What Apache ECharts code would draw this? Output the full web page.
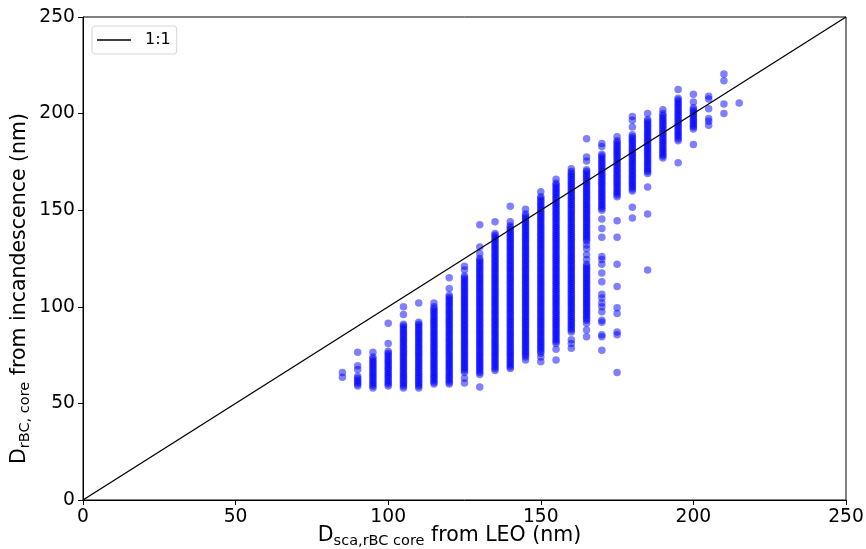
<!DOCTYPE html>
<html><head><meta charset="utf-8">
<script src="https://cdn.jsdelivr.net/npm/echarts@6/dist/echarts.min.js"></script>
<style>html,body{margin:0;padding:0;background:#fff}#c{width:866px;height:549px}</style>
</head><body><div id="c"></div>
<script>
// x positions of the size bins (nm)
const colX = [85, 90, 95, 100, 105, 110, 115, 120, 125, 130, 135, 140, 145, 150, 155, 160, 165, 170, 175, 180, 185, 190, 195, 200, 205, 210, 215];
// y values (nm) for each bin
const y85 = [63.5, 66];
const y90 = [59, 60, 61, 62, 63, 64, 67.5, 69.5, 76.5];
const y95 = [58, 59, 60, 61, 62, 63, 64, 65, 66, 67, 68, 69, 70, 71, 72, 73, 74, 76.5];
const y100 = [59, 60, 61, 62, 63, 64, 65, 66, 67, 68, 69, 70, 71, 72, 73, 74, 75, 76, 77, 81, 91.5];
const y105 = [58, 59, 60, 61, 62, 63, 64, 65, 66, 67, 68, 69, 70, 71, 72, 73, 74, 75, 76, 77, 78, 79, 80, 81, 82, 83, 84, 85, 86, 87, 88, 89, 90, 91, 96, 100];
const y110 = [58, 59, 60, 61, 62, 63, 64, 65, 66, 67, 68, 69, 70, 71, 72, 73, 74, 75, 76, 77, 78, 79, 80, 81, 82, 83, 84, 85, 86, 87, 88, 89, 90, 91, 92, 102];
const y115 = [60, 61, 62, 63, 64, 65, 66, 67, 68, 69, 70, 71, 72, 73, 74, 75, 76, 77, 78, 79, 80, 81, 82, 83, 84, 85, 86, 87, 88, 89, 90, 91, 92, 93, 94, 95, 96, 97, 98, 99, 100, 102];
const y120 = [60, 61, 62, 63, 64, 65, 66, 67, 68, 69, 70, 71, 72, 73, 74, 75, 76, 77, 78, 79, 80, 81, 82, 83, 84, 85, 86, 87, 88, 89, 90, 91, 92, 93, 94, 95, 96, 97, 98, 99, 100, 101, 102, 103, 104, 105, 106, 109.5, 115];
const y125 = [60.5, 63, 66, 67, 68, 69, 70, 71, 72, 73, 74, 75, 76, 77, 78, 79, 80, 81, 82, 83, 84, 85, 86, 87, 88, 89, 90, 91, 92, 93, 94, 95, 96, 97, 98, 99, 100, 101, 102, 103, 104, 105, 106, 107, 108, 109, 110, 111, 112, 113, 114, 115, 116, 119, 121];
const y130 = [58.5, 65, 66, 67, 68, 69, 70, 71, 72, 73, 74, 75, 76, 77, 78, 79, 80, 81, 82, 83, 84, 85, 86, 87, 88, 89, 90, 91, 92, 93, 94, 95, 96, 97, 98, 99, 100, 101, 102, 103, 104, 105, 106, 107, 108, 109, 110, 111, 112, 113, 114, 115, 116, 117, 118, 119, 120, 121, 122, 123, 124, 125, 127.5, 131, 142.5];
const y135 = [67, 68, 69, 70, 71, 72, 73, 74, 75, 76, 77, 78, 79, 80, 81, 82, 83, 84, 85, 86, 87, 88, 89, 90, 91, 92, 93, 94, 95, 96, 97, 98, 99, 100, 101, 102, 103, 104, 105, 106, 107, 108, 109, 110, 111, 112, 113, 114, 115, 116, 117, 118, 119, 120, 121, 122, 123, 124, 125, 126, 127, 128, 129, 130, 131, 132, 133, 134, 135, 136, 137, 138, 144];
const y140 = [68, 69, 70, 71, 72, 73, 74, 75, 76, 77, 78, 79, 80, 81, 82, 83, 84, 85, 86, 87, 88, 89, 90, 91, 92, 93, 94, 95, 96, 97, 98, 99, 100, 101, 102, 103, 104, 105, 106, 107, 108, 109, 110, 111, 112, 113, 114, 115, 116, 117, 118, 119, 120, 121, 122, 123, 124, 125, 126, 127, 128, 129, 130, 131, 132, 133, 134, 135, 136, 137, 138, 139, 140, 141, 142, 144, 152];
const y145 = [72.5, 74, 75, 76, 77, 78, 79, 80, 81, 82, 83, 84, 85, 86, 87, 88, 89, 90, 91, 92, 93, 94, 95, 96, 97, 98, 99, 100, 101, 102, 103, 104, 105, 106, 107, 108, 109, 110, 111, 112, 113, 114, 115, 116, 117, 118, 119, 120, 121, 122, 123, 124, 125, 126, 127, 128, 129, 130, 131, 132, 133, 134, 135, 136, 137, 138, 139, 140, 141, 142, 143, 144, 145, 146, 147, 148, 150.5];
const y150 = [71.5, 74, 76, 77, 78, 79, 80, 81, 82, 83, 84, 85, 86, 87, 88, 89, 90, 91, 92, 93, 94, 95, 96, 97, 98, 99, 100, 101, 102, 103, 104, 105, 106, 107, 108, 109, 110, 111, 112, 113, 114, 115, 116, 117, 118, 119, 120, 121, 122, 123, 124, 125, 126, 127, 128, 129, 130, 131, 132, 133, 134, 135, 136, 137, 138, 139, 140, 141, 142, 143, 144, 145, 146, 147, 148, 149, 150, 151, 152, 153, 154, 155, 156, 157, 159.5];
const y155 = [72.5, 78, 81, 82, 83, 84, 85, 86, 87, 88, 89, 90, 91, 92, 93, 94, 95, 96, 97, 98, 99, 100, 101, 102, 103, 104, 105, 106, 107, 108, 109, 110, 111, 112, 113, 114, 115, 116, 117, 118, 119, 120, 121, 122, 123, 124, 125, 126, 127, 128, 129, 130, 131, 132, 133, 134, 135, 136, 137, 138, 139, 140, 141, 142, 143, 144, 145, 146, 147, 148, 149, 150, 151, 152, 153, 154, 155, 156, 157, 158, 159, 160, 161, 162, 163, 164, 166];
const y160 = [78.5, 81, 83, 87, 88, 89, 90, 91, 92, 93, 94, 95, 96, 97, 98, 99, 100, 101, 102, 103, 104, 105, 106, 107, 108, 109, 110, 111, 112, 113, 114, 115, 116, 117, 118, 119, 120, 121, 122, 123, 124, 125, 126, 127, 128, 129, 130, 131, 132, 133, 134, 135, 136, 137, 138, 139, 140, 141, 142, 143, 144, 145, 146, 147, 148, 149, 150, 151, 152, 153, 154, 155, 156, 157, 158, 159, 160, 161, 162, 163, 164, 165, 166, 167, 168, 169, 170, 171.5];
const y165 = [84.5, 88, 91.5, 93, 94, 95, 96, 97, 98, 99, 100, 101, 102, 103, 104, 105, 106, 107, 108, 109, 110, 111, 112, 113, 114, 115, 116, 117, 118, 119, 120, 121, 122, 124.5, 127, 130, 132, 134, 135, 136, 137, 138, 139, 140, 141, 142, 143, 144, 145, 146, 147, 148, 149, 150, 151, 152, 153, 154, 155, 156, 157, 158, 159, 160, 161, 162, 163, 164, 165, 166, 167, 168, 169, 170, 171, 175.5, 177.5, 187];
const y170 = [77.5, 84.5, 85.5, 92, 93, 97.5, 100, 102, 104.5, 106.5, 113, 117.5, 122, 124.5, 126, 136, 140.5, 145.5, 150, 151, 152, 153, 154, 155, 156, 157, 158, 159, 160, 161, 162, 163, 164, 165, 166, 167, 168, 169, 170, 171, 172, 173, 174, 175, 176, 177, 178, 179, 183, 184.5];
const y175 = [66, 85.5, 87, 96.5, 99.5, 110.5, 122, 136, 144.5, 157, 158, 159, 160, 161, 162, 163, 164, 165, 166, 167, 168, 169, 170, 171, 172, 173, 174, 175, 176, 177, 178, 179, 180, 181, 182, 183, 184, 185, 186, 188];
const y180 = [146, 151.5, 160, 161, 162, 163, 164, 165, 166, 167, 168, 169, 170, 171, 172, 173, 174, 175, 176, 177, 178, 179, 180, 181, 182, 183, 184, 185, 186, 187, 188, 189, 193, 196.5, 198.5];
const y185 = [119, 148, 162, 169, 170, 171, 172, 173, 174, 175, 176, 177, 178, 179, 180, 181, 182, 183, 184, 185, 186, 187, 188, 189, 190, 191, 192, 193, 194, 195, 196, 197, 200];
const y190 = [177, 178, 179, 180, 181, 182, 183, 184, 185, 186, 187, 188, 189, 190, 191, 192, 193, 194, 195, 196, 197, 198, 199, 200, 202];
const y195 = [174.5, 186, 187, 188, 189, 190, 191, 192, 193, 194, 195, 196, 197, 198, 199, 200, 201, 202, 203, 204, 205, 206, 207, 208, 212.5];
const y200 = [184, 192, 193, 194, 195, 196, 197, 198, 199, 200, 201, 202, 203, 206, 210];
const y205 = [194, 196, 197.5, 202.5, 207.5, 209];
const y210 = [200, 205, 217, 220.5];
const y215 = [205.5];
const colY = [y85, y90, y95, y100, y105, y110, y115, y120, y125, y130, y135, y140, y145, y150, y155, y160, y165, y170, y175, y180, y185, y190, y195, y200, y205, y210, y215];
// 1:1 reference line end points
const lineX = [0, 250];
const lineY = [0, 250];
const axisMin = 0, axisMax = 250, axisStep = 50;

const scatterData = [];
colX.forEach((x, i) => colY[i].forEach(y => scatterData.push([x, y])));
const lineData = lineX.map((x, i) => [x, lineY[i]]);

const FONT = 'DejaVu Sans';
const rich = {
  m: { fontSize: 20.5, fontFamily: FONT, color: '#000', lineHeight: 26, verticalAlign: 'middle' },
  s: { fontSize: 14.5, fontFamily: FONT, color: '#000', lineHeight: 15, verticalAlign: 'bottom' }
};
const chart = echarts.init(document.getElementById('c'), null, { renderer: 'canvas' });
const axisCommon = {
  type: 'value', min: axisMin, max: axisMax, interval: axisStep,
  axisLine: { show: true, onZero: false, lineStyle: { color: '#000', width: 1 } },
  axisTick: { show: true, inside: false, length: 5, lineStyle: { color: '#000', width: 1 } },
  axisLabel: { fontSize: 18.7, color: '#000', fontFamily: FONT, margin: 8 },
  splitLine: { show: false },
  nameMoveOverlap: false
};
chart.setOption({
  animation: false,
  backgroundColor: '#fff',
  grid: {
    left: 83, right: 20, top: 17, bottom: 49, containLabel: false, outerBoundsMode: 'none',
    show: true, borderColor: '#000', borderWidth: 1, backgroundColor: 'transparent'
  },
  legend: {
    data: [{ name: '1:1', icon: 'rect' }], left: 92, top: 26, orient: 'vertical',
    itemWidth: 34, itemHeight: 1.4, padding: [6, 6, 6, 5],
    itemStyle: { color: '#000' },
    lineStyle: { color: '#000', width: 1.3 },
    borderColor: '#d5d5d5', borderWidth: 1, borderRadius: 3, backgroundColor: '#fff',
    textStyle: { fontSize: 16, fontFamily: FONT, color: '#000', padding: [0, 0, 0, 9], lineHeight: 16 }
  },
  xAxis: Object.assign({}, axisCommon, {
    name: '{m|D}{s|sca,rBC core}{m| from LEO (nm)}', nameLocation: 'middle', nameGap: 23,
    nameTextStyle: { rich: rich, padding: [0, 30, 0, 0] }
  }),
  yAxis: Object.assign({}, axisCommon, {
    name: '{m|D}{s|rBC, core}{m| from incandescence (nm)}', nameLocation: 'middle', nameGap: 50, nameRotate: 90,
    nameTextStyle: { rich: rich, padding: [0, 60, 0, 0] }
  }),
  series: [
    {
      type: 'scatter', name: 'data', data: scatterData, symbolSize: 7.5, z: 2,
      itemStyle: { color: '#0000ff', opacity: 0.5 }, large: false
    },
    {
      type: 'line', name: '1:1', data: lineData, symbol: 'none', showSymbol: false, z: 3,
      lineStyle: { color: '#000', width: 1.3 }, itemStyle: { color: '#000' }
    }
  ]
});
</script></body></html>
